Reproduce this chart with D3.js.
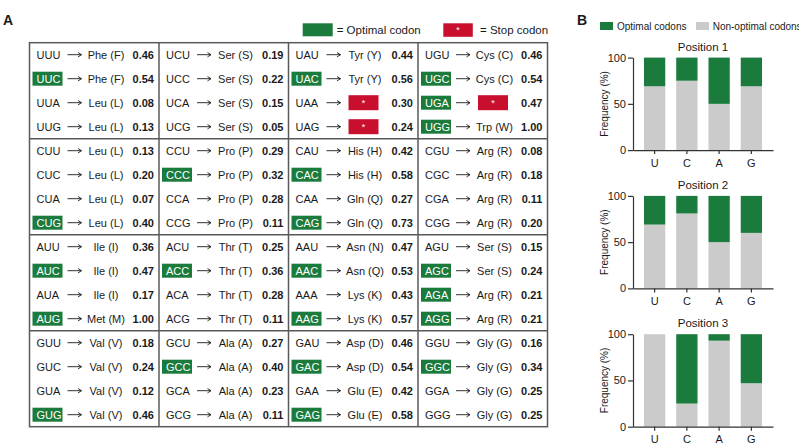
<!DOCTYPE html>
<html lang="en">
<head>
<meta charset="utf-8">
<script src="https://d3js.org/d3.v7.min.js"></script>
<style>
  body { margin: 0; background: #fff; }
  svg text { font-family: "Liberation Sans", Arial, sans-serif; fill: #1a1a1a; }
</style>
</head>
<body>
<svg width="799" height="446"></svg>
<script>
// codon table, ordered by 1st base (block), 2nd base (column), 3rd base (row)
const bases = ["U", "C", "A", "G"];
const codons = [
  "UUU","UUC","UUA","UUG", "UCU","UCC","UCA","UCG", "UAU","UAC","UAA","UAG", "UGU","UGC","UGA","UGG",
  "CUU","CUC","CUA","CUG", "CCU","CCC","CCA","CCG", "CAU","CAC","CAA","CAG", "CGU","CGC","CGA","CGG",
  "AUU","AUC","AUA","AUG", "ACU","ACC","ACA","ACG", "AAU","AAC","AAA","AAG", "AGU","AGC","AGA","AGG",
  "GUU","GUC","GUA","GUG", "GCU","GCC","GCA","GCG", "GAU","GAC","GAA","GAG", "GGU","GGC","GGA","GGG"
];
const aminoAcids = [
  "Phe (F)","Phe (F)","Leu (L)","Leu (L)", "Ser (S)","Ser (S)","Ser (S)","Ser (S)", "Tyr (Y)","Tyr (Y)","*","*", "Cys (C)","Cys (C)","*","Trp (W)",
  "Leu (L)","Leu (L)","Leu (L)","Leu (L)", "Pro (P)","Pro (P)","Pro (P)","Pro (P)", "His (H)","His (H)","Gln (Q)","Gln (Q)", "Arg (R)","Arg (R)","Arg (R)","Arg (R)",
  "Ile (I)","Ile (I)","Ile (I)","Met (M)", "Thr (T)","Thr (T)","Thr (T)","Thr (T)", "Asn (N)","Asn (Q)","Lys (K)","Lys (K)", "Ser (S)","Ser (S)","Arg (R)","Arg (R)",
  "Val (V)","Val (V)","Val (V)","Val (V)", "Ala (A)","Ala (A)","Ala (A)","Ala (A)", "Asp (D)","Asp (D)","Glu (E)","Glu (E)", "Gly (G)","Gly (G)","Gly (G)","Gly (G)"
];
const usage = [
  "0.46","0.54","0.08","0.13", "0.19","0.22","0.15","0.05", "0.44","0.56","0.30","0.24", "0.46","0.54","0.47","1.00",
  "0.13","0.20","0.07","0.40", "0.29","0.32","0.28","0.11", "0.42","0.58","0.27","0.73", "0.08","0.18","0.11","0.20",
  "0.36","0.47","0.17","1.00", "0.25","0.36","0.28","0.11", "0.47","0.53","0.43","0.57", "0.15","0.24","0.21","0.21",
  "0.18","0.24","0.12","0.46", "0.27","0.40","0.23","0.11", "0.46","0.54","0.42","0.58", "0.16","0.34","0.25","0.25"
];
const optimalCodons = ["UUC","UAC","UGC","UGA","UGG","CUG","CCC","CAC","CAG",
  "AUC","AUG","ACC","AAC","AAG","AGC","AGA","AGG","GUG","GCC","GAC","GAG","GGC"];

// panel B
const positionTitles = ["Position 1", "Position 2", "Position 3"];
const nonOptimalPct = [[69, 75, 50, 69], [69, 81, 50, 60], [100, 25, 93, 47]];
const yTicks = [0, 50, 100];
const legendA = ["= Optimal codon", "= Stop codon"];
const legendB = ["Optimal codons", "Non-optimal codons"];

const green = "#1b7b3d", red = "#c8102e", gray = "#cbcbcb", ink = "#1a1a1a";
const svg = d3.select("svg");

// ---------- panel A ----------
svg.append("text").attr("x", 3).attr("y", 25).attr("font-size", 14).attr("font-weight", "bold").text("A");
svg.append("text").attr("x", 577).attr("y", 25).attr("font-size", 14).attr("font-weight", "bold").text("B");

// legend above the table
svg.append("rect").attr("x", 302.7).attr("y", 23.3).attr("width", 30).attr("height", 13).attr("fill", green);
svg.append("text").attr("x", 336.7).attr("y", 33.6).attr("font-size", 11.5).text(legendA[0]);
svg.append("rect").attr("x", 443.3).attr("y", 23.3).attr("width", 29.5).attr("height", 13.5).attr("fill", red);
svg.append("text").attr("x", 458).attr("y", 33).attr("font-size", 9).attr("text-anchor", "middle")
  .style("fill", "#fff").text("*");
svg.append("text").attr("x", 480).attr("y", 33.6).attr("font-size", 11.5).text(legendA[1]);

const colX = d3.scaleLinear().domain([0, 4]).range([29.5, 547.5]);
const rowY = d3.scaleLinear().domain([0, 16]).range([42.7, 426.7]);

const cells = codons.map((c, i) => ({
  codon: c, aa: aminoAcids[i], v: usage[i],
  col: Math.floor(i / 4) % 4,
  row: Math.floor(i / 16) * 4 + (i % 4),
  opt: optimalCodons.includes(c)
}));

const cell = svg.append("g").selectAll("g").data(cells).join("g")
  .attr("transform", d => `translate(${colX(d.col)},${rowY(d.row + 0.5)})`);

cell.filter(d => d.opt).append("rect")
  .attr("x", 3).attr("y", -7).attr("width", 30).attr("height", 14).attr("fill", green);
cell.append("text").attr("x", 7).attr("y", 4).attr("font-size", 11)
  .style("fill", d => d.opt ? "#fff" : ink).text(d => d.codon);

// arrows
cell.append("path").attr("d", "M38,0H52M48.5,-2.2L52,0L48.5,2.2")
  .attr("fill", "none").attr("stroke", ink).attr("stroke-width", 0.9);

const stop = cell.filter(d => d.aa === "*");
stop.append("rect").attr("x", 60).attr("y", -7.5).attr("width", 30).attr("height", 15).attr("fill", red);
stop.append("text").attr("x", 75).attr("y", 3).attr("font-size", 9).attr("text-anchor", "middle")
  .style("fill", "#fff").text("*");
cell.filter(d => d.aa !== "*").append("text").attr("x", 76.5).attr("y", 4).attr("font-size", 11)
  .attr("text-anchor", "middle").text(d => d.aa);
cell.append("text").attr("x", 124.5).attr("y", 4).attr("font-size", 11).attr("font-weight", "bold")
  .attr("text-anchor", "end").text(d => d.v);

// grid
const grid = svg.append("g").attr("stroke", "#5a5a5a").attr("stroke-width", 1.5).attr("fill", "none");
grid.selectAll("line.v").data([1, 2, 3]).join("line")
  .attr("x1", d => colX(d)).attr("x2", d => colX(d)).attr("y1", rowY(0)).attr("y2", rowY(16));
grid.selectAll("line.h").data([4, 8, 12]).join("line").attr("class", "h")
  .attr("x1", colX(0)).attr("x2", colX(4)).attr("y1", d => rowY(d)).attr("y2", d => rowY(d));
grid.append("rect").attr("x", colX(0)).attr("y", rowY(0))
  .attr("width", colX(4) - colX(0)).attr("height", rowY(16) - rowY(0));

// ---------- panel B ----------
svg.append("rect").attr("x", 600).attr("y", 22).attr("width", 13).attr("height", 8).attr("fill", green);
svg.append("text").attr("x", 617).attr("y", 29.5).attr("font-size", 10).text(legendB[0]);
svg.append("rect").attr("x", 696).attr("y", 22).attr("width", 13).attr("height", 8).attr("fill", gray);
svg.append("text").attr("x", 712.7).attr("y", 29.5).attr("font-size", 10).text(legendB[1]);

const xB = d3.scaleBand().domain(bases).range([633, 773]).padding(0.34);
const plotH = 92.5;

positionTitles.forEach((title, p) => {
  const top = 57.6 + p * 138.3;
  const y = d3.scaleLinear().domain([0, 100]).range([top + plotH, top]);
  const rows = bases.map((b, i) => ({ base: b, non: nonOptimalPct[p][i], opt: 100 - nonOptimalPct[p][i] }));
  const series = d3.stack().keys(["non", "opt"])(rows);
  const g = svg.append("g");

  g.selectAll("g.s").data(series).join("g")
    .attr("fill", d => d.key === "opt" ? green : gray)
    .selectAll("rect").data(d => d).join("rect")
    .attr("x", d => xB(d.data.base)).attr("width", xB.bandwidth())
    .attr("y", d => y(d[1])).attr("height", d => y(d[0]) - y(d[1]));

  const ya = g.append("g").attr("transform", "translate(633,0)")
    .call(d3.axisLeft(y).tickValues(yTicks).tickSize(5).tickPadding(2).tickSizeOuter(0));
  const xa = g.append("g").attr("transform", `translate(0,${top + plotH})`)
    .call(d3.axisBottom(xB).tickSize(4).tickPadding(5).tickSizeOuter(0));
  [ya, xa].forEach(a => {
    a.attr("font-family", null).attr("font-size", null);
    a.selectAll("path,line").attr("stroke", "#333").attr("stroke-width", 1.2);
    a.selectAll("text").attr("font-size", 11).style("fill", ink);
  });

  g.append("text").attr("x", 703).attr("y", top - 7).attr("text-anchor", "middle")
    .attr("font-size", 11.5).text(title);
  g.append("text").attr("transform", `translate(608,${top + plotH / 2}) rotate(-90)`)
    .attr("text-anchor", "middle").attr("font-size", 10).text("Frequency (%)");
});
</script>
</body>
</html>
